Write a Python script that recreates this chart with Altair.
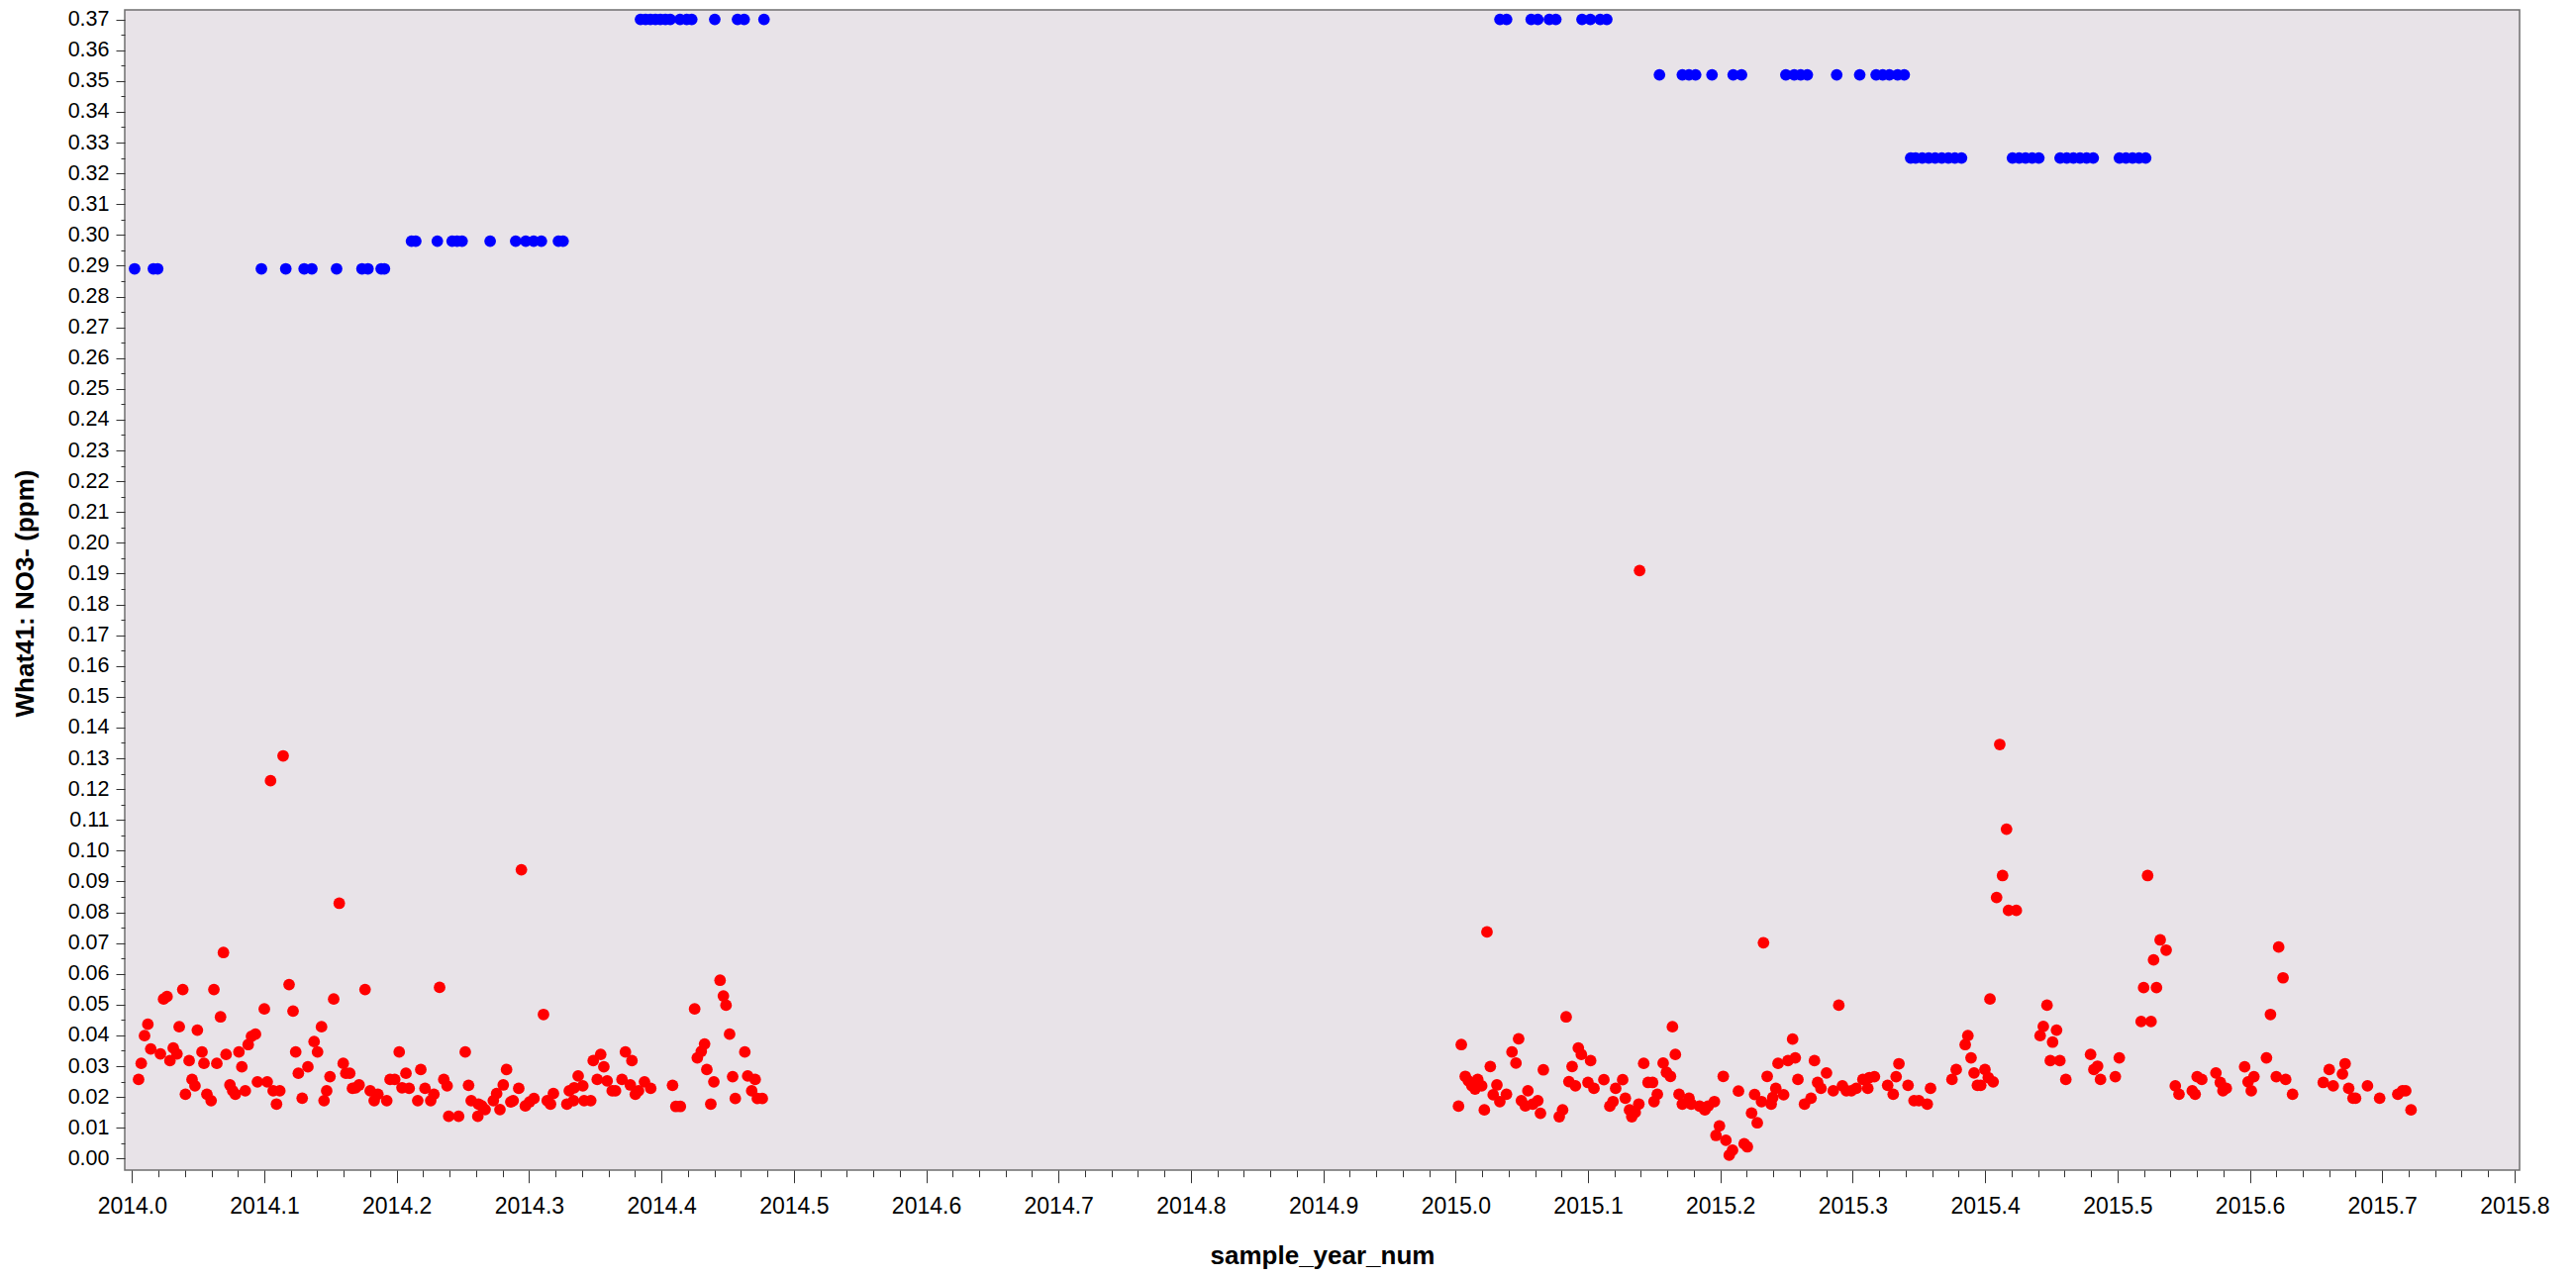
import altair as alt
import pandas as pd

# ---------------- data ----------------
red_year_2014 = [
    2014.0050, 2014.0070, 2014.0095, 2014.0120, 2014.0142, 2014.0215, 2014.0239, 2014.0265,
    2014.0287, 2014.0312, 2014.0340, 2014.0357, 2014.0384, 2014.0404, 2014.0432, 2014.0454,
    2014.0476, 2014.0494, 2014.0529, 2014.0544, 2014.0566, 2014.0598, 2014.0619, 2014.0641,
    2014.0669, 2014.0691, 2014.0711, 2014.0740, 2014.0761, 2014.0781, 2014.0808, 2014.0830,
    2014.0856, 2014.0878, 2014.0903, 2014.0933, 2014.0948, 2014.1000, 2014.1022, 2014.1047,
    2014.1067, 2014.1092, 2014.1117, 2014.1142, 2014.1187, 2014.1217, 2014.1237, 2014.1257,
    2014.1286, 2014.1329, 2014.1376, 2014.1402, 2014.1432, 2014.1451, 2014.1471, 2014.1496,
    2014.1524, 2014.1566, 2014.1596, 2014.1616, 2014.1645, 2014.1666, 2014.1690, 2014.1716,
    2014.1761, 2014.1800, 2014.1830, 2014.1858, 2014.1925, 2014.1950, 2014.1985, 2014.2019,
    2014.2040, 2014.2070, 2014.2094, 2014.2159, 2014.2182, 2014.2214, 2014.2257, 2014.2281,
    2014.2324, 2014.2356, 2014.2381, 2014.2393, 2014.2468, 2014.2518, 2014.2543, 2014.2563,
    2014.2613, 2014.2618, 2014.2643, 2014.2668, 2014.2730, 2014.2755, 2014.2780, 2014.2805,
    2014.2830, 2014.2862, 2014.2880, 2014.2922, 2014.2942, 2014.2972, 2014.3004, 2014.3037,
    2014.3109, 2014.3137, 2014.3162, 2014.3184, 2014.3286, 2014.3304, 2014.3336, 2014.3341,
    2014.3371, 2014.3406, 2014.3416, 2014.3466, 2014.3485, 2014.3515, 2014.3541, 2014.3565,
    2014.3590, 2014.3628, 2014.3653, 2014.3702, 2014.3728, 2014.3765, 2014.3777, 2014.3803,
    2014.3827, 2014.3872, 2014.3919, 2014.4084, 2014.4109, 2014.4143, 2014.4251, 2014.4271,
    2014.4301, 2014.4326, 2014.4343, 2014.4373, 2014.4396, 2014.4443, 2014.4468, 2014.4488,
    2014.4515, 2014.4538, 2014.4558, 2014.4630, 2014.4652, 2014.4682, 2014.4708, 2014.4725,
    2014.4762,
]
red_value_2014 = [
    0.0257, 0.0309, 0.0399, 0.0436, 0.0356, 0.0340, 0.0518, 0.0526,
    0.0318, 0.0359, 0.0340, 0.0428, 0.0549, 0.0209, 0.0318, 0.0257,
    0.0236, 0.0417, 0.0346, 0.0309, 0.0209, 0.0188, 0.0549, 0.0309,
    0.0460, 0.0669, 0.0338, 0.0239, 0.0220, 0.0209, 0.0346, 0.0298,
    0.0220, 0.0370, 0.0397, 0.0404, 0.0249, 0.0486, 0.0249, 0.1227,
    0.0220, 0.0177, 0.0220, 0.1308, 0.0565, 0.0479, 0.0346, 0.0277,
    0.0196, 0.0298, 0.0380, 0.0346, 0.0428, 0.0188, 0.0220, 0.0266,
    0.0518, 0.0829, 0.0309, 0.0277, 0.0277, 0.0228, 0.0230, 0.0239,
    0.0549, 0.0220, 0.0188, 0.0209, 0.0188, 0.0257, 0.0257, 0.0346,
    0.0230, 0.0277, 0.0228, 0.0188, 0.0289, 0.0228, 0.0188, 0.0209,
    0.0556, 0.0257, 0.0236, 0.0137, 0.0137, 0.0346, 0.0238, 0.0188,
    0.0137, 0.0177, 0.0171, 0.0159, 0.0188, 0.0211, 0.0159, 0.0239,
    0.0289, 0.0184, 0.0188, 0.0228, 0.0938, 0.0171, 0.0184, 0.0195,
    0.0468, 0.0188, 0.0177, 0.0211, 0.0177, 0.0220, 0.0188, 0.0230,
    0.0268, 0.0236, 0.0188, 0.0188, 0.0318, 0.0257, 0.0338, 0.0298,
    0.0252, 0.0220, 0.0220, 0.0257, 0.0346, 0.0239, 0.0318, 0.0209,
    0.0220, 0.0249, 0.0228, 0.0238, 0.0169, 0.0169, 0.0486, 0.0327,
    0.0348, 0.0372, 0.0289, 0.0177, 0.0249, 0.0579, 0.0528, 0.0498,
    0.0404, 0.0266, 0.0195, 0.0346, 0.0268, 0.0220, 0.0257, 0.0195,
    0.0195,
]
red_year_2015 = [
    2015.0022, 2015.0043, 2015.0073, 2015.0097, 2015.0123, 2015.0147, 2015.0167, 2015.0197,
    2015.0217, 2015.0237, 2015.0262, 2015.0284, 2015.0312, 2015.0334, 2015.0384, 2015.0426,
    2015.0456, 2015.0476, 2015.0497, 2015.0527, 2015.0546, 2015.0583, 2015.0621, 2015.0641,
    2015.0663, 2015.0783, 2015.0808, 2015.0835, 2015.0856, 2015.0880, 2015.0905, 2015.0927,
    2015.0950, 2015.1000, 2015.1020, 2015.1045, 2015.1120, 2015.1165, 2015.1189, 2015.1209,
    2015.1262, 2015.1282, 2015.1314, 2015.1331, 2015.1357, 2015.1384, 2015.1390, 2015.1421,
    2015.1454, 2015.1488, 2015.1499, 2015.1524, 2015.1568, 2015.1593, 2015.1623, 2015.1638,
    2015.1660, 2015.1688, 2015.1713, 2015.1763, 2015.1780, 2015.1843, 2015.1883, 2015.1907,
    2015.1955, 2015.1967, 2015.1993, 2015.2022, 2015.2042, 2015.2067, 2015.2092, 2015.2137,
    2015.2180, 2015.2204, 2015.2236, 2015.2259, 2015.2279, 2015.2311, 2015.2326, 2015.2354,
    2015.2384, 2015.2396, 2015.2419, 2015.2436, 2015.2478, 2015.2511, 2015.2546, 2015.2566,
    2015.2586, 2015.2636, 2015.2685, 2015.2711, 2015.2735, 2015.2760, 2015.2802, 2015.2853,
    2015.2895, 2015.2922, 2015.2952, 2015.2990, 2015.3027, 2015.3077, 2015.3114, 2015.3126,
    2015.3164, 2015.3264, 2015.3306, 2015.3328, 2015.3349, 2015.3418, 2015.3463, 2015.3500,
    2015.3563, 2015.3588, 2015.3750, 2015.3782, 2015.3850, 2015.3870, 2015.3894, 2015.3917,
    2015.3942, 2015.3967, 2015.3999, 2015.4024, 2015.4037, 2015.4061, 2015.4087, 2015.4111,
    2015.4132, 2015.4162, 2015.4177, 2015.4236, 2015.4416, 2015.4440, 2015.4468, 2015.4493,
    2015.4510, 2015.4540, 2015.4565, 2015.4610, 2015.4797, 2015.4822, 2015.4850, 2015.4872,
    2015.4984, 2015.5014, 2015.5179, 2015.5198, 2015.5228, 2015.5254, 2015.5273, 2015.5295,
    2015.5323, 2015.5368, 2015.5437, 2015.5465, 2015.5565, 2015.5587, 2015.5602, 2015.5637,
    2015.5744, 2015.5777, 2015.5797, 2015.5822, 2015.5961, 2015.5987, 2015.6011, 2015.6031,
    2015.6126, 2015.6156, 2015.6200, 2015.6218, 2015.6251, 2015.6271, 2015.6323, 2015.6555,
    2015.6600, 2015.6630, 2015.6700, 2015.6720, 2015.6747, 2015.6780, 2015.6799, 2015.6889,
    2015.6981, 2015.7118, 2015.7153, 2015.7178, 2015.7218,
]
red_value_2015 = [
    0.0170, 0.0370, 0.0267, 0.0252, 0.0236, 0.0226, 0.0257, 0.0236,
    0.0158, 0.0736, 0.0299, 0.0207, 0.0239, 0.0185, 0.0209, 0.0346,
    0.0310, 0.0389, 0.0188, 0.0171, 0.0220, 0.0177, 0.0188, 0.0147,
    0.0288, 0.0136, 0.0158, 0.0460, 0.0250, 0.0299, 0.0236, 0.0359,
    0.0338, 0.0247, 0.0318, 0.0228, 0.0256, 0.0170, 0.0185, 0.0228,
    0.0256, 0.0196, 0.0158, 0.0136, 0.0150, 0.0177, 0.1910, 0.0309,
    0.0247, 0.0247, 0.0185, 0.0209, 0.0310, 0.0280, 0.0267, 0.0428,
    0.0338, 0.0209, 0.0177, 0.0196, 0.0177, 0.0170, 0.0158, 0.0170,
    0.0185, 0.0075, 0.0106, 0.0267, 0.0059, 0.0011, 0.0027, 0.0219,
    0.0048, 0.0038, 0.0148, 0.0208, 0.0116, 0.0185, 0.0701, 0.0267,
    0.0177, 0.0198, 0.0228, 0.0309, 0.0207, 0.0318, 0.0388, 0.0327,
    0.0257, 0.0177, 0.0196, 0.0318, 0.0247, 0.0228, 0.0278, 0.0220,
    0.0498, 0.0236, 0.0220, 0.0220, 0.0228, 0.0257, 0.0228, 0.0263,
    0.0266, 0.0238, 0.0209, 0.0266, 0.0308, 0.0238, 0.0188, 0.0188,
    0.0177, 0.0228, 0.0257, 0.0289, 0.0370, 0.0399, 0.0327, 0.0278,
    0.0238, 0.0238, 0.0289, 0.0263, 0.0518, 0.0249, 0.0848, 0.1345,
    0.0919, 0.1070, 0.0806, 0.0806, 0.0399, 0.0429, 0.0498, 0.0318,
    0.0378, 0.0417, 0.0318, 0.0257, 0.0338, 0.0289, 0.0300, 0.0257,
    0.0266, 0.0327, 0.0445, 0.0555, 0.0919, 0.0445, 0.0645, 0.0555,
    0.0710, 0.0677, 0.0236, 0.0209, 0.0220, 0.0209, 0.0266, 0.0257,
    0.0278, 0.0247, 0.0220, 0.0228, 0.0298, 0.0249, 0.0220, 0.0266,
    0.0327, 0.0468, 0.0266, 0.0687, 0.0587, 0.0257, 0.0209, 0.0247,
    0.0289, 0.0236, 0.0275, 0.0308, 0.0228, 0.0196, 0.0196, 0.0236,
    0.0196, 0.0209, 0.0220, 0.0220, 0.0158,
]

blue_289_years = [2014.0020, 2014.0162, 2014.0194, 2014.0978, 2014.1162, 2014.1301,
                  2014.1359, 2014.1546, 2014.1738, 2014.1783, 2014.1883, 2014.1907]
blue_298_years = [2014.2112, 2014.2144, 2014.2307, 2014.2419, 2014.2456, 2014.2494,
                  2014.2706, 2014.2899, 2014.2975, 2014.3035, 2014.3093, 2014.3222, 2014.3257]
blue_370_years = [2014.3842, 2014.3880, 2014.3917, 2014.3955, 2014.3992, 2014.4030,
                  2014.4067, 2014.4141, 2014.4191, 2014.4229, 2014.4403, 2014.4575,
                  2014.4625, 2014.4775,
                  2015.0335, 2015.0385, 2015.0571, 2015.0621, 2015.0708, 2015.0757,
                  2015.0955, 2015.1018, 2015.1092, 2015.1142]
blue_352_years = [2015.1540, 2015.1713, 2015.1763, 2015.1813, 2015.1937, 2015.2097,
                  2015.2160, 2015.2495, 2015.2558, 2015.2607, 2015.2657, 2015.2879,
                  2015.3053, 2015.3177, 2015.3227, 2015.3277, 2015.3339, 2015.3389]
blue_325_years = [2015.3438, 2015.3475, 2015.3525, 2015.3574, 2015.3623, 2015.3673,
                  2015.3723, 2015.3772, 2015.3822, 2015.4207, 2015.4257, 2015.4306,
                  2015.4356, 2015.4406, 2015.4567, 2015.4617, 2015.4667, 2015.4717,
                  2015.4767, 2015.4817, 2015.5015, 2015.5064, 2015.5114, 2015.5163,
                  2015.5213]
blue_levels = [0.289, 0.298, 0.370, 0.352, 0.325]

x_major_ticks = [round(2014.0 + i / 10, 1) for i in range(19)]
x_minor_ticks = [round(2014.0 + i / 50, 2) for i in range(91) if i % 5 != 0]
y_major_ticks = [round(i / 100, 2) for i in range(38)]
y_minor_ticks = [round(i / 100 + 0.005, 3) for i in range(37)]

# ---------------- tables ----------------
red_df = pd.DataFrame({
    "year": red_year_2014 + red_year_2015,
    "value": red_value_2014 + red_value_2015,
})
blue_rows = []
for lvl, yrs in zip(blue_levels, [blue_289_years, blue_298_years, blue_370_years,
                                  blue_352_years, blue_325_years]):
    for yv in yrs:
        blue_rows.append({"year": yv, "value": lvl})
blue_df = pd.DataFrame(blue_rows)

FONT = "Liberation Sans"
xscale = alt.Scale(domain=[2013.99454, 2015.8038], nice=False, zero=False)
yscale = alt.Scale(domain=[-0.00376, 0.37309], nice=False, zero=False)

PLOT_W = 2419
PLOT_H = 1172

x_major_axis = alt.Axis(
    orient="bottom", values=x_major_ticks, format=".1f", grid=False, domain=False,
    tickSize=12.7, tickColor="#333333", tickWidth=1,
    labelFont=FONT, labelFontSize=23, labelColor="#000000", labelPadding=13,
    labelOverlap=False, labelFlush=False,
    title="sample_year_num", titleFont=FONT, titleFontSize=26, titleFontWeight="bold",
    titleColor="#000000", titleBaseline="middle", titleY=86, titleX=PLOT_W / 2,
)
y_major_axis = alt.Axis(
    orient="left", values=y_major_ticks, format=".2f", grid=False, domain=False,
    tickSize=9, tickColor="#333333", tickWidth=1,
    labelFont=FONT, labelFontSize=21.5, labelColor="#000000", labelPadding=7,
    labelOverlap=False, labelFlush=False,
    title="What41: NO3- (ppm)", titleFont=FONT, titleFontSize=26, titleFontWeight="bold",
    titleColor="#000000", titleAngle=270, titleBaseline="middle", titleAlign="center",
    titleX=-101, titleY=589,
)
x_minor_axis = alt.Axis(
    orient="bottom", values=x_minor_ticks, labels=False, grid=False, domain=False,
    tickSize=6.7, tickColor="#333333", tickWidth=1, title=None,
)
y_minor_axis = alt.Axis(
    orient="left", values=y_minor_ticks, labels=False, grid=False, domain=False,
    tickSize=4, tickColor="#333333", tickWidth=1, title=None,
)

red_layer = alt.Chart(red_df).mark_circle(size=138, opacity=1, color="#FF0000").encode(
    x=alt.X("year:Q", scale=xscale, axis=x_major_axis),
    y=alt.Y("value:Q", scale=yscale, axis=y_major_axis),
)
blue_layer = alt.Chart(blue_df).mark_circle(size=138, opacity=1, color="#0000FF").encode(
    x=alt.X("year:Q", scale=xscale, axis=x_minor_axis),
    y=alt.Y("value:Q", scale=yscale, axis=y_minor_axis),
)

chart = (
    alt.layer(red_layer, blue_layer)
    .resolve_axis(x="independent", y="independent")
    .properties(
        width=PLOT_W,
        height=PLOT_H,
        padding={"left": 118, "top": 2, "right": 45, "bottom": 101},
        autosize=alt.AutoSizeParams(type="none"),
        background="#FFFFFF",
    )
    .configure_view(fill="#E8E3E8", stroke="#6f6f6f", strokeWidth=1.5)
)

chart.save("out.html", embed_options={"renderer": "svg", "actions": False})
